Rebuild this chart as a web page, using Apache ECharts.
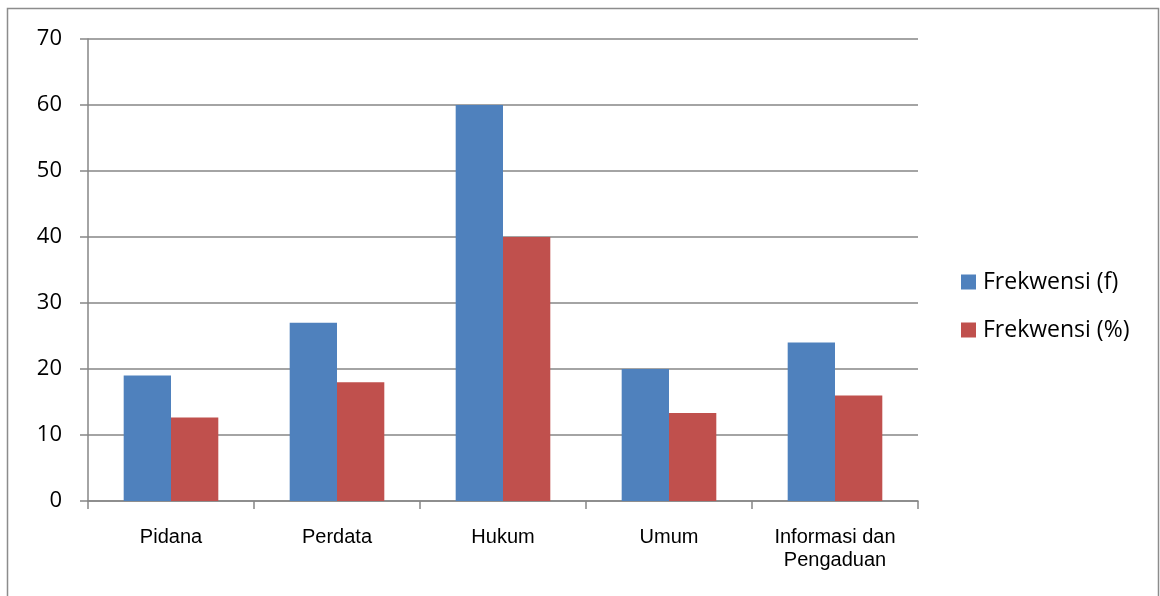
<!DOCTYPE html>
<html>
<head>
<meta charset="utf-8">
<script src="https://cdn.jsdelivr.net/npm/echarts@6/dist/echarts.min.js"></script>
<style>
  html, body { margin: 0; padding: 0; background: #fff; }
  #chart { width: 1160px; height: 596px; }
</style>
</head>
<body>
<div id="chart"></div>
<script>
// Categories and series values
const categories = ['Pidana', 'Perdata', 'Hukum', 'Umum', 'Informasi dan\nPengaduan'];
const frekF = [19, 27, 60, 20, 24];
const frekPct = [12.67, 18, 40, 13.33, 16];
const seriesNames = ['Frekwensi (f)', 'Frekwensi (%)'];
const yTicks = [0, 10, 20, 30, 40, 50, 60, 70];

const gridColor = '#868686';
const chart = echarts.init(document.getElementById('chart'), null, { renderer: 'canvas' });

chart.setOption({
  animation: false,
  backgroundColor: '#ffffff',
  graphic: [{
    type: 'rect',
    shape: { x: 7.5, y: 8.5, width: 1151, height: 620 },
    style: { fill: 'none', stroke: '#8c8c8c', lineWidth: 1.5 },
    silent: true
  }],
  grid: { left: 88, right: 242, top: 39, bottom: 95 },
  legend: {
    orient: 'vertical',
    left: 961,
    top: 270,
    padding: 0,
    itemWidth: 15,
    itemHeight: 15,
    itemGap: 24,
    icon: 'rect',
    textStyle: { fontFamily: '"Open Sans", sans-serif', fontSize: 23, lineHeight: 24, color: '#000', padding: [0, 0, 0, 2] },
    data: seriesNames
  },
  xAxis: {
    type: 'category',
    data: categories,
    axisLine: { lineStyle: { color: gridColor, width: 1.5 } },
    axisTick: { show: true, length: 8, alignWithLabel: false, lineStyle: { color: gridColor, width: 1.5 } },
    axisLabel: {
      margin: 25,
      fontFamily: '"Liberation Sans", Arial, sans-serif',
      fontSize: 20,
      lineHeight: 23,
      color: '#000',
      interval: 0
    }
  },
  yAxis: {
    type: 'value',
    min: yTicks[0],
    max: yTicks[yTicks.length - 1],
    interval: 10,
    axisLine: { show: true, lineStyle: { color: gridColor, width: 1.5 } },
    axisTick: { show: true, length: 8, lineStyle: { color: gridColor, width: 1.5 } },
    splitLine: { show: true, lineStyle: { color: gridColor, width: 1.5 } },
    axisLabel: {
      margin: 26,
      fontFamily: '"Open Sans", sans-serif',
      fontSize: 22,
      color: '#000'
    }
  },
  series: [
    {
      name: seriesNames[0],
      type: 'bar',
      data: frekF,
      barGap: '0%',
      barCategoryGap: '43%',
      itemStyle: { color: '#4F81BD' }
    },
    {
      name: seriesNames[1],
      type: 'bar',
      data: frekPct,
      barGap: '0%',
      barCategoryGap: '43%',
      itemStyle: { color: '#C0504D' }
    }
  ]
});
</script>
</body>
</html>
